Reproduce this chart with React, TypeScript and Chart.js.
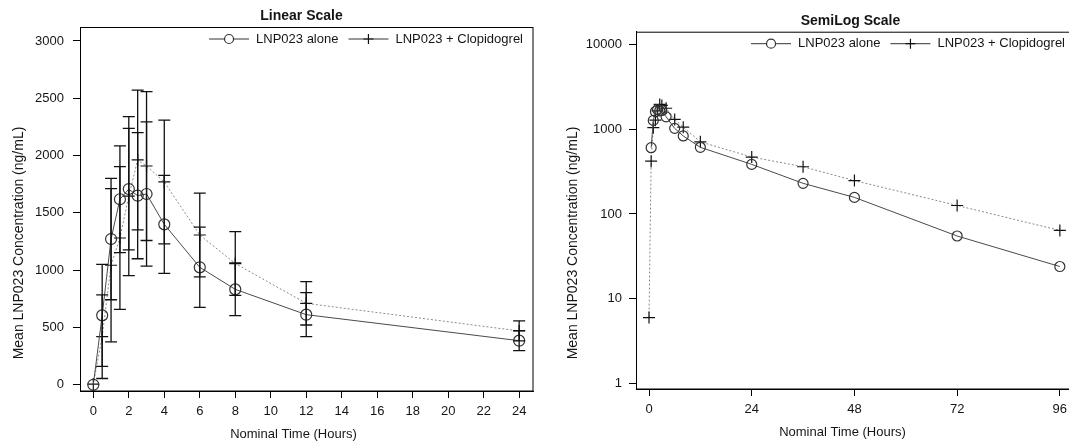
import React, { useEffect, useRef } from "react";
import { Chart, registerables } from "chart.js";

Chart.register(...registerables);

// ---------- data ----------
const timeHours = [0, 0.5, 1, 1.5, 2, 2.5, 3, 4, 6, 8, 12, 24, 36, 48, 72, 96];
const aloneMean = [0, 606, 1272, 1619, 1708, 1650, 1665, 1400, 1025, 833, 612, 385, 230, 157, 55, 24];
const aloneSD = [0, 445, 530, 465, 530, 550, 630, 427, 350, 230, 192, 87];
const clopiMean = [6, 420, 1043, 1281, 1646, 1962, 1909, 1770, 1307, 1058, 711, 470, 361, 248, 126, 64];
const clopiSD = [0, 365, 668, 622, 694, 610, 650, 540, 365, 278, 189, 87];

const linearXTicks = [0, 2, 4, 6, 8, 10, 12, 14, 16, 18, 20, 22, 24];
const linearYTicks = [0, 500, 1000, 1500, 2000, 2500, 3000];
const logXTicks = [0, 24, 48, 72, 96];
const logYTicks = [1, 10, 100, 1000, 10000];

const seriesLabels = ["LNP023 alone", "LNP023 + Clopidogrel"];
const linearTitle = "Linear Scale";
const logTitle = "SemiLog Scale";
const xAxisTitle = "Nominal Time (Hours)";
const yAxisTitle = "Mean LNP023 Concentration (ng/mL)";

const FONT = "'Liberation Sans', Arial, Helvetica, sans-serif";
const TEXT = "#151515";

type DecorOpts = {
  title: string;
  errors: boolean;
  yTitleX: number;
  yTitleCy: number;
};

function makeDecor(o: DecorOpts) {
  return {
    id: "decor",
    afterDatasetsDraw(chart: any) {
      if (!o.errors) return;
      const ctx = chart.ctx;
      const xs = chart.scales.x;
      const ys = chart.scales.y;
      ctx.save();
      ctx.strokeStyle = "#111";
      ctx.lineWidth = 1.3;
      chart.data.datasets.forEach((ds: any) => {
        const sd = ds.sd as number[] | undefined;
        if (!sd) return;
        ds.data.forEach((p: any, j: number) => {
          const s = sd[j];
          if (!s || p.y == null) return;
          const x = xs.getPixelForValue(p.x);
          const y1 = ys.getPixelForValue(p.y + s);
          const y2 = ys.getPixelForValue(p.y - s);
          ctx.beginPath();
          ctx.moveTo(x, y1);
          ctx.lineTo(x, y2);
          ctx.moveTo(x - 6, y1);
          ctx.lineTo(x + 6, y1);
          ctx.moveTo(x - 6, y2);
          ctx.lineTo(x + 6, y2);
          ctx.stroke();
        });
      });
      ctx.restore();
    },
    afterDraw(chart: any) {
      const ctx = chart.ctx;
      const { left, right, top, bottom } = chart.chartArea;
      ctx.save();
      // box
      ctx.strokeStyle = "#000";
      ctx.lineWidth = 1;
      ctx.strokeRect(left + 0.5, top + 0.5, right - left - 0.5, bottom - top - 0.5);

      // chart title
      ctx.fillStyle = TEXT;
      ctx.font = `bold 14px ${FONT}`;
      ctx.textAlign = "center";
      ctx.textBaseline = "middle";
      ctx.fillText(o.title, (left + right) / 2 - 5, top - 11);

      // x axis title
      ctx.font = `13px ${FONT}`;
      ctx.fillText(xAxisTitle, (left + right) / 2 - 13, bottom + 43);

      // y axis title
      ctx.save();
      ctx.translate(o.yTitleX, o.yTitleCy);
      ctx.rotate(-Math.PI / 2);
      ctx.font = `14px ${FONT}`;
      ctx.fillText(yAxisTitle, 0, 0);
      ctx.restore();

      // legend inside the box, top right
      ctx.font = `13px ${FONT}`;
      ctx.textAlign = "left";
      const w1 = ctx.measureText(seriesLabels[0]).width;
      const w2 = ctx.measureText(seriesLabels[1]).width;
      const lineLen = 40;
      const gapLT = 7;
      const gapItems = 10;
      const ly = top + 12;
      const t2 = right - 10 - w2;
      const l2 = t2 - gapLT - lineLen;
      const t1 = l2 - gapItems - w1;
      const l1 = t1 - gapLT - lineLen;
      ctx.strokeStyle = "#333";
      ctx.lineWidth = 1;
      ctx.beginPath();
      ctx.moveTo(l1, ly);
      ctx.lineTo(l1 + lineLen, ly);
      ctx.moveTo(l2, ly);
      ctx.lineTo(l2 + lineLen, ly);
      ctx.stroke();
      // circle marker
      ctx.beginPath();
      ctx.fillStyle = "#fff";
      ctx.arc(l1 + lineLen / 2, ly, 4.5, 0, Math.PI * 2);
      ctx.fill();
      ctx.lineWidth = 1.2;
      ctx.stroke();
      // plus marker
      ctx.strokeStyle = "#111";
      ctx.beginPath();
      ctx.moveTo(l2 + lineLen / 2 - 5, ly);
      ctx.lineTo(l2 + lineLen / 2 + 5, ly);
      ctx.moveTo(l2 + lineLen / 2, ly - 5);
      ctx.lineTo(l2 + lineLen / 2, ly + 5);
      ctx.stroke();
      ctx.fillStyle = TEXT;
      ctx.textBaseline = "middle";
      ctx.fillText(seriesLabels[0], t1, ly);
      ctx.fillText(seriesLabels[1], t2, ly);
      ctx.restore();
    },
  };
}

function axisCommon(ticks: number[], padding: number) {
  return {
    afterBuildTicks: (s: any) => {
      s.ticks = ticks.map((v) => ({ value: v }));
    },
    grid: { drawOnChartArea: false, drawTicks: true, tickLength: 7, color: "#000", lineWidth: 1 },
    border: { display: true, color: "#000", width: 1 },
    ticks: {
      padding,
      color: TEXT,
      font: { family: FONT, size: 13 },
      maxRotation: 0,
      autoSkip: false,
      callback: (v: any) => String(v),
    },
  };
}

function aloneDataset(points: any[], withSD: boolean, radius: number) {
  return {
    label: seriesLabels[0],
    data: points,
    sd: withSD ? aloneSD : undefined,
    borderColor: "#4a4a4a",
    borderWidth: 1,
    pointStyle: "circle",
    pointRadius: radius,
    pointBorderColor: "#333",
    pointBackgroundColor: "rgba(255,255,255,0)",
    pointBorderWidth: 1.2,
    tension: 0,
    spanGaps: false,
  };
}

function clopiDataset(points: any[], withSD: boolean, radius: number) {
  return {
    label: seriesLabels[1],
    data: points,
    sd: withSD ? clopiSD : undefined,
    borderColor: "#8a8a8a",
    borderDash: [2, 2],
    borderWidth: 1,
    pointStyle: "cross",
    pointRadius: radius,
    pointBorderColor: "#111",
    pointBorderWidth: 1.2,
    tension: 0,
  };
}

export default function App() {
  const leftRef = useRef<HTMLCanvasElement | null>(null);
  const rightRef = useRef<HTMLCanvasElement | null>(null);

  useEffect(() => {
    const nLinear = timeHours.filter((t) => t <= 24).length;
    const linAlone = timeHours.slice(0, nLinear).map((t, i) => ({ x: t, y: aloneMean[i] }));
    const linClopi = timeHours.slice(0, nLinear).map((t, i) => ({ x: t, y: clopiMean[i] }));
    const logAlone = timeHours.map((t, i) => ({ x: t, y: aloneMean[i] > 0 ? aloneMean[i] : null }));
    const logClopi = timeHours.map((t, i) => ({ x: t, y: clopiMean[i] > 0 ? clopiMean[i] : null }));

    const left = new Chart(leftRef.current as HTMLCanvasElement, {
      type: "line",
      data: {
        datasets: [aloneDataset(linAlone, true, 5.5), clopiDataset(linClopi, true, 6)] as any,
      },
      options: {
        animation: false,
        responsive: false,
        devicePixelRatio: 1,
        layout: { padding: { top: 27, right: 12, left: 0, bottom: 0 } },
        plugins: { legend: { display: false }, tooltip: { enabled: false }, title: { display: false } },
        scales: {
          x: {
            type: "linear",
            min: -0.75,
            max: 24.78,
            afterFit: (s: any) => {
              s.height = 54;
            },
            ...axisCommon(linearXTicks, 6),
          } as any,
          y: {
            type: "linear",
            min: -54,
            max: 3122,
            afterFit: (s: any) => {
              s.width = 80;
            },
            ...axisCommon(linearYTicks, 9),
          } as any,
        },
      },
      plugins: [makeDecor({ title: linearTitle, errors: true, yTitleX: 19, yTitleCy: 243 })],
    });

    const right = new Chart(rightRef.current as HTMLCanvasElement, {
      type: "line",
      data: {
        datasets: [aloneDataset(logAlone, false, 5), clopiDataset(logClopi, false, 6)] as any,
      },
      options: {
        animation: false,
        responsive: false,
        devicePixelRatio: 1,
        layout: { padding: { top: 31.7, right: 10, left: 0, bottom: 0 } },
        plugins: { legend: { display: false }, tooltip: { enabled: false }, title: { display: false } },
        scales: {
          x: {
            type: "linear",
            min: -3.04,
            max: 99.54,
            afterFit: (s: any) => {
              s.height = 56;
            },
            ...axisCommon(logXTicks, 6),
          } as any,
          y: {
            type: "logarithmic",
            min: 0.861,
            max: 14160,
            afterFit: (s: any) => {
              s.width = 91;
            },
            ...axisCommon(logYTicks, 7),
          } as any,
        },
      },
      plugins: [makeDecor({ title: logTitle, errors: false, yTitleX: 28, yTitleCy: 243 })],
    });

    return () => {
      left.destroy();
      right.destroy();
    };
  }, []);

  return (
    <div
      style={{
        position: "fixed",
        left: 0,
        top: 0,
        width: 1069,
        height: 445,
        overflow: "hidden",
        background: "#fff",
      }}
    >
      <div style={{ position: "absolute", left: 0, top: 0, width: 545, height: 445 }}>
        <canvas ref={leftRef} width={545} height={445} style={{ width: 545, height: 445, display: "block" }} />
      </div>
      <div style={{ position: "absolute", left: 545, top: 0, width: 540, height: 445 }}>
        <canvas ref={rightRef} width={540} height={445} style={{ width: 540, height: 445, display: "block" }} />
      </div>
    </div>
  );
}
